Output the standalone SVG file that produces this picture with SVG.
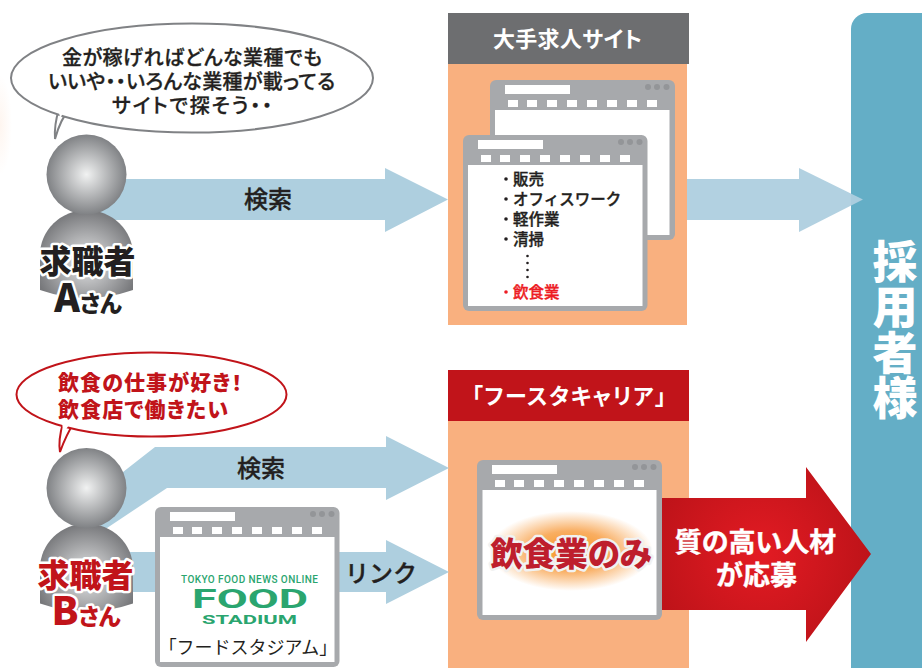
<svg xmlns="http://www.w3.org/2000/svg" width="922" height="668" viewBox="0 0 922 668">
<style>
text{font-family:"Noto Sans CJK JP","Noto Sans",sans-serif;text-anchor:middle;font-feature-settings:"palt"}
.flow{fill:#aecfdf}
.win{fill:#a7a9ac}
.inner,.w{fill:#fff}
.dot{fill:#939598}
.say{font-size:20px;font-weight:500;fill:#231f20;stroke:#231f20;stroke-width:.3px}
.sayr{font-size:21px;font-weight:900;fill:#c1141a;text-anchor:start}
.lab{font-size:24px;font-weight:500;fill:#231f20;stroke:#231f20;stroke-width:.35px;font-feature-settings:normal}
.li{font-size:15.500px;font-weight:500;fill:#231f20;stroke:#231f20;stroke-width:.35px;text-anchor:start;font-feature-settings:normal}
.head{font-size:22px;font-weight:700;fill:#fff}
.tag{font-size:32px;font-weight:900;paint-order:stroke;stroke:#fff;stroke-width:5px;stroke-linejoin:round}
.nm{font-weight:900;font-size:39px}
.nm2{font-weight:900;font-size:23px}
.logo{fill:#2aa56f;font-family:"Roboto","Liberation Sans",sans-serif;font-weight:700}
</style>
<defs>
<radialGradient id="hg" cx="0.5" cy="0.5" r="0.5"><stop offset="0" stop-color="#f1f2f2"/><stop offset="1" stop-color="#808285"/></radialGradient>
<radialGradient id="bg" gradientUnits="userSpaceOnUse" cx="86.500" cy="262" r="52"><stop offset="0" stop-color="#e6e7e8"/><stop offset="1" stop-color="#77787b"/></radialGradient>
<radialGradient id="ra" gradientUnits="userSpaceOnUse" cx="760" cy="554" r="110"><stop offset="0" stop-color="#e31b23"/><stop offset="1" stop-color="#be1319"/></radialGradient>
<radialGradient id="glow"><stop offset="0" stop-color="#f7941d"/><stop offset="0.5" stop-color="#f9ae62"/><stop offset="1" stop-color="#fff"/></radialGradient>
<radialGradient id="edge"><stop offset="0" stop-color="#f9b07f" stop-opacity="0.12"/><stop offset="1" stop-color="#f9b07f" stop-opacity="0"/></radialGradient>
<g id="chrome">
<rect class="w" x="15" y="5" width="65" height="9"/>
<g class="w"><rect x="18" y="20" width="10" height="7"/><rect x="37" y="20" width="10" height="7"/><rect x="57" y="20" width="10" height="7"/><rect x="77" y="20" width="10" height="7"/><rect x="97" y="20" width="10" height="7"/><rect x="117" y="20" width="10" height="7"/><rect x="137" y="20" width="10" height="7"/><rect x="157" y="20" width="10" height="7"/></g>
<g class="dot"><circle cx="158" cy="7" r="3"/><circle cx="167" cy="7" r="3"/><circle cx="176.500" cy="7" r="3"/></g>
</g>
<g id="person">
<path d="M40 290V255a46.500 45 0 0 1 93 0V290Q86.500 306 40 290Z" fill="url(#bg)"/>
<circle cx="86.500" cy="174.500" r="40" fill="url(#hg)"/>
</g>
</defs>

<ellipse cx="0" cy="125" rx="12" ry="50" fill="url(#edge)"/>

<g id="panel-client">
<rect x="851" y="13" width="90" height="670" rx="16" fill="#64aec6"/>
<text x="895" y="239" style="writing-mode:vertical-rl;text-anchor:start;font-size:45px;font-weight:900;fill:#fff;letter-spacing:.5px;font-feature-settings:normal">採用者様</text>
</g>

<g id="panel-major">
<rect x="448" y="64" width="239" height="261" fill="#f9b07f"/>
<rect x="448" y="13" width="241" height="51" fill="#6d6e70"/>
<text class="head" x="567.500" y="47" textLength="149">大手求人サイト</text>
<g transform="translate(490,80)"><rect class="win" width="185" height="160" rx="6"/><rect class="inner" x="5" y="30" width="174.500" height="125"/><use href="#chrome"/></g>
<g transform="translate(463,135)"><rect class="win" width="184.500" height="176" rx="6"/><rect class="inner" x="5" y="30" width="174.500" height="141"/><use href="#chrome"/></g>
<circle cx="506" cy="179" r="1.800" fill="#231f20"/><text class="li" x="513" y="185">販売</text>
<circle cx="506" cy="199" r="1.800" fill="#231f20"/><text class="li" x="513" y="205">オフィスワーク</text>
<circle cx="506" cy="219" r="1.800" fill="#231f20"/><text class="li" x="513" y="225">軽作業</text>
<circle cx="506" cy="239" r="1.800" fill="#231f20"/><text class="li" x="513" y="245">清掃</text>
<g fill="#231f20"><circle cx="527.500" cy="256" r="1.300"/><circle cx="527.500" cy="263" r="1.300"/><circle cx="527.500" cy="270" r="1.300"/><circle cx="527.500" cy="277" r="1.300"/></g>
<circle cx="506" cy="292" r="1.800" fill="#ed1c24"/><text class="li" x="513" y="298" style="fill:#ed1c24;stroke:#ed1c24">飲食業</text>
</g>

<g id="panel-first">
<rect x="448" y="421" width="241" height="247" fill="#f9b07f"/>
<rect x="448" y="370" width="241" height="51" fill="#c1141a"/>
<text class="head" x="569" y="404" textLength="194">「フースタキャリア」</text>
</g>

<g id="connectors">
<path class="flow" d="M100 179H385V168L448 199.500L385 232V220H100Z"/>
<path class="flow" fill-opacity="0.95" d="M687 179H799V168L863 199.500L799 232V220H687Z"/>
<path class="flow" d="M100 530L100 490L155 447H386V436L449 468L386 500V488H167L107 528Z"/>
<path class="flow" d="M100 552H386V540L449 572L386 604V592H100Z"/>
<path fill="url(#ra)" d="M660 498H806V467L871 554L806 642V610H660Z"/>
</g>

<g id="label-search-a"><text class="lab" x="268" y="208">検索</text></g>
<g id="label-search-b"><text class="lab" x="261" y="477">検索</text></g>
<g id="label-link"><text class="lab" x="381" y="582">リンク</text></g>
<g id="label-apply">
<text x="755.500" y="552" font-size="27" font-weight="700" fill="#fff" stroke="#fff" stroke-width=".4">質の高い人材</text>
<text x="756.500" y="585" font-size="27" font-weight="700" fill="#fff" stroke="#fff" stroke-width=".4">が応募</text>
</g>

<g id="window-only">
<g transform="translate(477,460)"><rect class="win" width="185" height="160" rx="6"/><rect class="inner" x="5.500" y="30" width="174" height="125"/><use href="#chrome"/></g>
<ellipse cx="571" cy="551" rx="82" ry="40" fill="url(#glow)"/>
<text class="tag" x="571" y="566" fill="#be1e2d" style="stroke:#f1f2f2;font-size:32.500px">飲食業のみ</text>
</g>

<g id="window-food">
<g transform="translate(155,507)"><rect class="win" width="184.500" height="160" rx="6"/><rect class="inner" x="5" y="30" width="174.500" height="125"/><use href="#chrome"/></g>
<text class="logo" x="249.500" y="583" font-size="10" textLength="137" lengthAdjust="spacing" style="font-weight:500">TOKYO FOOD NEWS ONLINE</text>
<text class="logo" x="250" y="608" font-size="25" textLength="116" lengthAdjust="spacingAndGlyphs">FOOD</text>
<text class="logo" x="249.500" y="624" font-size="12.500" textLength="95" lengthAdjust="spacingAndGlyphs">STADIUM</text>
<text x="248" y="654" font-size="18" fill="#231f20" style="font-feature-settings:normal">「フードスタジアム」</text>
</g>

<g id="seeker-a">
<path d="M59 109Q54 125 55 139Q60 120 70 108" fill="#fff" stroke="#808285" stroke-width="2"/>
<ellipse cx="192" cy="78" rx="181" ry="54.500" fill="#fff" stroke="#808285" stroke-width="2"/>
<path d="M58 106L68 106L60 118Z" fill="#fff"/>
<text class="say" x="192" y="65" textLength="260">金が稼げればどんな業種でも</text>
<text class="say" x="191.500" y="89" textLength="287">いいや・・いろんな業種が載ってる</text>
<text class="say" x="192" y="113" textLength="160">サイトで探そう・・</text>
<use href="#person"/>
<text class="tag" x="87.500" y="273" fill="#231f20">求職者</text>
<text x="88" y="312" class="tag" fill="#231f20" style="font-size:23px"><tspan class="nm">A</tspan><tspan class="nm2">さん</tspan></text>
</g>

<g id="seeker-b">
<path d="M63 423Q58 440 60 452Q66 435 75 421" fill="#fff" stroke="#c1141a" stroke-width="2"/>
<ellipse cx="151.500" cy="394.500" rx="135" ry="42" fill="#fff" stroke="#c1141a" stroke-width="2"/>
<path d="M62 420L73 420L63 433Z" fill="#fff"/>
<text class="sayr" x="58" y="390" textLength="184">飲食の仕事が好き！</text>
<text class="sayr" x="58" y="417" textLength="170">飲食店で働きたい</text>
<use href="#person" y="313.500"/>
<text class="tag" x="85.500" y="587" fill="#c1141a">求職者</text>
<text x="86" y="625" class="tag" fill="#c1141a" style="font-size:23px"><tspan class="nm">B</tspan><tspan class="nm2">さん</tspan></text>
</g>
</svg>
